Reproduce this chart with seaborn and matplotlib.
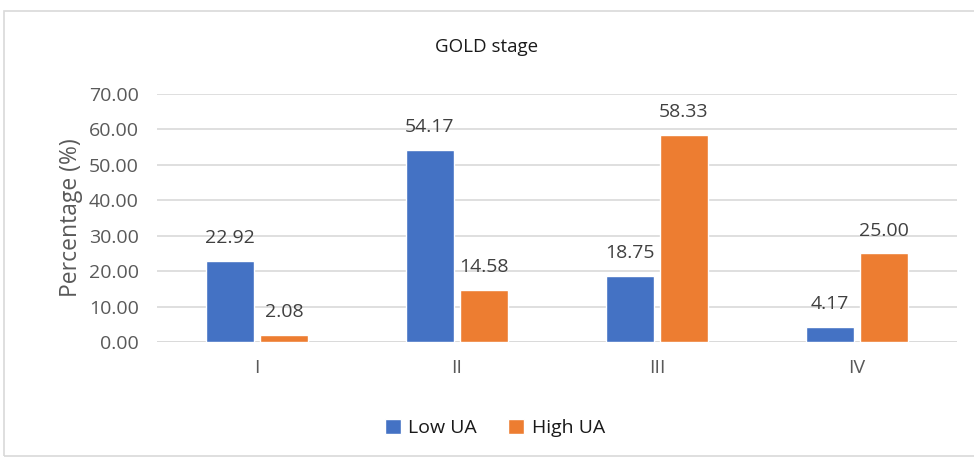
import matplotlib
matplotlib.use("Agg")
import matplotlib.pyplot as plt
from matplotlib.patches import Rectangle
import seaborn as sns
import pandas as pd

stages = ["I", "II", "III", "IV"]
low_ua = [22.92, 54.17, 18.75, 4.17]
high_ua = [2.08, 14.58, 58.33, 25.00]
groups = ["Low UA", "High UA"]
y_ticks = [0, 10, 20, 30, 40, 50, 60, 70]

df = pd.DataFrame({
    "stage": stages * 2,
    "value": low_ua + high_ua,
    "group": [groups[0]] * len(stages) + [groups[1]] * len(stages),
})

sns.set_theme(style="white")
plt.rcParams["font.family"] = ["Open Sans", "DejaVu Sans"]

fig = plt.figure(figsize=(9.74, 4.58), dpi=100)
ax = fig.add_axes([157 / 974, 1 - 342 / 458, 800 / 974, 248 / 458])

palette = {"Low UA": "#4472C4", "High UA": "#ED7D31"}
sns.barplot(data=df, x="stage", y="value", hue="group", order=stages,
            hue_order=groups, palette=palette, width=0.54, gap=0.12,
            saturation=1, ax=ax, legend=True, zorder=3)

for container in ax.containers:
    ax.bar_label(container, fmt="%.2f", padding=10, fontsize=14,
                 color="#404040")

ax.set_ylim(0, 70)
ax.set_yticks(y_ticks)
ax.set_yticklabels([f"{t:.2f}" for t in y_ticks])
ax.set_xlim(-0.5, 3.5)
ax.yaxis.grid(True, color="#d9d9d9", linewidth=1.2, zorder=0)
ax.set_axisbelow(True)
for s in ax.spines.values():
    s.set_visible(False)
ax.axhline(0, color="#d9d9d9", linewidth=1.2, zorder=1)
ax.tick_params(axis="both", length=0, labelsize=14, labelcolor="#595959")
ax.tick_params(axis="y", pad=13)
ax.tick_params(axis="x", pad=12)
ax.set_xlabel("")
ax.set_ylabel("Percentage (%)", fontsize=16.5, color="#595959", labelpad=4)

fig.text(0.5, 1 - 47 / 458, "GOLD stage", ha="center", va="center",
         fontsize=13.5, color="#1a1a1a")

handles, labels = ax.get_legend_handles_labels()
ax.get_legend().remove()
fig.legend(handles, labels, loc="center", bbox_to_anchor=(495 / 974, 1 - 428 / 458),
           ncol=2, frameon=False, fontsize=14, handlelength=0.8,
           handleheight=0.8, handletextpad=0.4, columnspacing=1.6,
           labelcolor="#1a1a1a")

fig.patches.append(Rectangle((4 / 974, 2 / 458), 1.2, 445 / 458,
                             transform=fig.transFigure, fill=False,
                             edgecolor="#d9d9d9", linewidth=1.2))

fig.savefig("out.png", dpi=100, facecolor="white")
